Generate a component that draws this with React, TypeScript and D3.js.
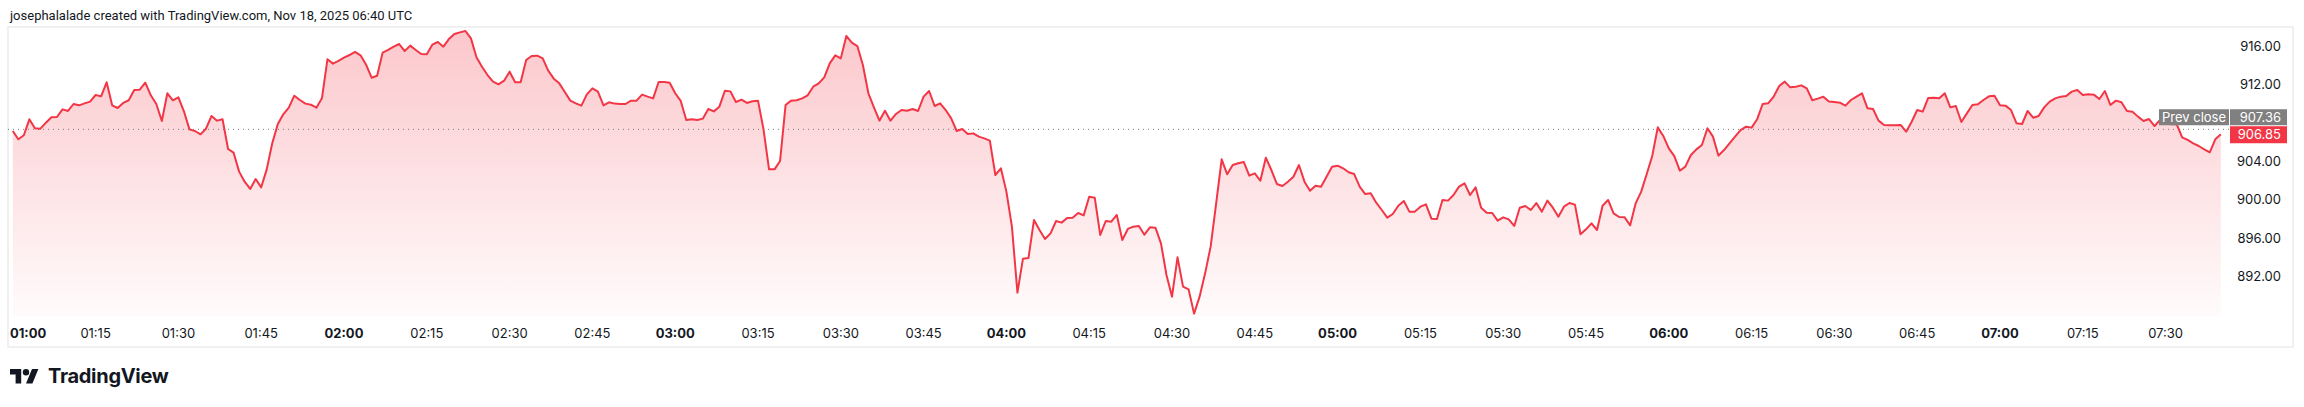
import React from 'react';
import * as d3 from 'd3';

// one close per minute, starting 01:00 (chart time)
const START = Date.UTC(2025, 10, 18, 1, 0);
const closes = [
  907.19, 906.32, 906.74, 908.41, 907.47, 907.43, 908.06, 908.62, 908.65, 909.45,
  909.28, 910.01, 909.87, 910.08, 910.26, 910.95, 910.81, 912.28, 909.87, 909.59,
  910.12, 910.40, 911.47, 911.51, 912.24, 910.92, 910.01, 908.23, 911.13, 910.40,
  910.71, 909.25, 907.36, 907.19, 906.84, 907.43, 908.76, 908.27, 908.41, 905.31,
  904.92, 902.94, 901.89, 901.13, 902.17, 901.30, 903.18, 905.90, 907.89, 908.93,
  909.63, 910.88, 910.43, 910.05, 909.94, 909.63, 910.60, 914.68, 914.23, 914.51,
  914.85, 915.13, 915.45, 915.10, 914.12, 912.76, 912.97, 915.38, 915.66, 916.00,
  916.28, 915.55, 916.11, 915.66, 915.24, 915.20, 916.21, 916.49, 916.00, 916.80,
  917.33, 917.50, 917.64, 916.87, 914.89, 913.91, 913.04, 912.35, 912.07, 912.45,
  913.39, 912.28, 912.28, 914.61, 915.03, 915.06, 914.78, 913.50, 912.66, 912.17,
  911.27, 910.36, 910.08, 909.84, 911.02, 911.65, 911.30, 909.87, 910.19, 910.05,
  910.01, 910.01, 910.36, 910.36, 910.99, 910.78, 910.60, 912.31, 912.31, 912.24,
  911.13, 910.33, 908.34, 908.41, 908.34, 908.48, 909.49, 909.24, 909.73, 911.40,
  911.33, 910.22, 910.46, 910.12, 910.29, 910.36, 907.36, 903.18, 903.18, 904.05,
  909.91, 910.36, 910.40, 910.60, 910.92, 911.82, 912.17, 912.80, 914.26, 915.10,
  914.78, 917.12, 916.42, 916.07, 914.09, 911.13, 909.66, 908.27, 909.31, 908.27,
  908.97, 909.38, 909.31, 909.49, 909.28, 910.78, 911.37, 909.80, 910.08, 909.38,
  908.51, 907.19, 907.40, 906.87, 906.94, 906.60, 906.42, 906.18, 902.59, 903.29,
  900.85, 897.19, 890.29, 893.84, 893.91, 897.89, 896.84, 895.90, 896.49, 897.78,
  897.61, 898.10, 898.13, 898.62, 898.37, 900.32, 900.22, 896.32, 897.78, 897.71,
  898.41, 895.80, 896.95, 897.19, 897.26, 896.35, 897.12, 897.08, 895.45, 892.14,
  889.87, 893.98, 890.92, 890.64, 888.10, 889.87, 892.31, 895.10, 899.63, 904.23,
  902.66, 903.63, 903.81, 903.95, 902.52, 902.76, 901.99, 904.40, 903.11, 901.65,
  901.44, 901.89, 902.41, 903.63, 901.89, 900.95, 901.47, 901.37, 902.41, 903.46,
  903.56, 903.29, 902.87, 902.69, 901.37, 900.60, 900.67, 899.70, 898.93, 898.13,
  898.51, 899.38, 899.87, 898.76, 898.76, 899.28, 899.52, 898.02, 897.99, 899.98,
  899.91, 900.50, 901.37, 901.72, 900.50, 901.30, 899.17, 898.65, 898.62, 897.82,
  898.16, 897.95, 897.26, 899.17, 899.35, 898.93, 899.66, 898.76, 899.91, 899.17,
  898.23, 899.28, 899.66, 899.49, 896.39, 896.91, 897.54, 896.84, 899.38, 899.98,
  898.58, 898.20, 898.16, 897.33, 899.63, 900.85, 902.69, 904.57, 907.57, 906.67,
  905.38, 904.57, 903.04, 903.46, 904.68, 905.27, 905.72, 907.47, 906.60, 904.61,
  905.20, 905.90, 906.60, 907.29, 907.64, 907.54, 908.41, 910.01, 910.08, 910.78,
  911.89, 912.35, 911.75, 911.82, 911.96, 911.65, 910.40, 910.57, 910.78, 910.26,
  910.22, 910.15, 909.84, 910.43, 910.78, 911.13, 909.56, 909.49, 908.27, 907.82,
  907.78, 907.78, 907.82, 907.12, 908.16, 909.38, 909.21, 910.64, 910.67, 910.60,
  911.13, 909.66, 909.80, 908.13, 909.03, 909.91, 909.98, 910.43, 910.81, 910.88,
  909.87, 909.84, 909.38, 907.99, 907.92, 909.28, 908.58, 908.76, 909.66, 910.26,
  910.60, 910.78, 910.85, 911.30, 911.47, 910.95, 911.02, 910.99, 910.53, 911.37,
  909.91, 910.36, 910.19, 909.28, 909.21, 908.69, 908.23, 908.44, 907.71, 908.34,
  908.00, 907.90, 907.92, 906.53, 906.25, 905.90, 905.62, 905.27, 904.96, 906.32,
  906.85,
];
const priceTicks = [892, 896, 900, 904, 912, 916];
const prevClose = 907.36;
const lastPrice = 906.85;
const title = 'josephalalade created with TradingView.com, Nov 18, 2025 06:40 UTC';

const W = 2304;
const H = 407;
const RED = '#F23645';
const TEXT = '#131722';
const FONT = 'Inter, "Noto Sans", sans-serif';

const pane = { left: 8, top: 27, right: 2229, bottom: 316 };
const frame = { left: 8, top: 27, right: 2293, bottom: 347 };

const data = closes.map((v, i) => ({ t: new Date(START + i * 60000), v }));

const x = d3
  .scaleUtc()
  .domain([new Date(START), new Date(START + 400 * 60000)])
  .range([12.8, 2220.8]);
const y = d3.scaleLinear().domain([892, 916]).range([276.3, 46.7]);

const line = d3
  .line<{ t: Date; v: number }>()
  .x((d) => x(d.t))
  .y((d) => y(d.v));
const area = d3
  .area<{ t: Date; v: number }>()
  .x((d) => x(d.t))
  .y0(pane.bottom)
  .y1((d) => y(d.v));

const fmt = d3.utcFormat('%H:%M');
const timeTicks = x.ticks(d3.utcMinute.every(15)!);

export default function App() {
  const lastY = y(lastPrice);
  const prevY = lastY - 17;
  return (
    <svg
      width={W}
      height={H}
      style={{ position: 'absolute', left: 0, top: 0, background: '#fff' }}
      fontFamily={FONT}
    >
      <defs>
        <linearGradient id="fillGrad" gradientUnits="userSpaceOnUse" x1={0} y1={pane.top} x2={0} y2={pane.bottom}>
          <stop offset="0%" stopColor={RED} stopOpacity={0.28} />
          <stop offset="100%" stopColor={RED} stopOpacity={0.02} />
        </linearGradient>
      </defs>

      <text x={10} y={20} fontSize={13} fill={TEXT} fontFamily='Roboto, "Noto Sans", sans-serif'>
        {title}
      </text>

      <rect
        x={frame.left}
        y={frame.top}
        width={frame.right - frame.left}
        height={frame.bottom - frame.top}
        fill="#fff"
        stroke="#ececec"
        strokeWidth={1.5}
      />

      <path d={area(data) ?? ''} fill="url(#fillGrad)" />

      <line
        x1={pane.left}
        x2={pane.right}
        y1={y(prevClose)}
        y2={y(prevClose)}
        stroke="#787b86"
        strokeWidth={1}
        strokeDasharray="1 4"
      />

      <path d={line(data) ?? ''} fill="none" stroke={RED} strokeWidth={2} strokeLinejoin="round" />

      {/* time axis */}
      {timeTicks.map((t) => {
        const bold = t.getUTCMinutes() === 0;
        const tx = x(t);
        const first = tx - 18 < 10;
        return (
          <text
            key={t.getTime()}
            x={first ? 10 : tx}
            y={337.5}
            fontSize={13}
            fontWeight={bold ? 700 : 400}
            textAnchor={first ? 'start' : 'middle'}
            fill={TEXT}
          >
            {fmt(t)}
          </text>
        );
      })}

      {/* price axis */}
      {priceTicks.map((p) => (
        <text key={p} x={2281} y={y(p) + 4.5} fontSize={13} textAnchor="end" fill={TEXT}>
          {p.toFixed(2)}
        </text>
      ))}

      {/* prev close labels */}
      <rect x={2159} y={prevY - 8} width={70} height={16} fill="#808080" />
      <text x={2194} y={prevY + 4.5} fontSize={13} textAnchor="middle" fill="#fff">
        Prev close
      </text>
      <rect x={2230} y={prevY - 8} width={57} height={16} fill="#808080" />
      <text x={2281} y={prevY + 4.5} fontSize={13} textAnchor="end" fill="#fff">
        {prevClose.toFixed(2)}
      </text>

      {/* last price label */}
      <rect x={2230} y={lastY - 8} width={57} height={17} fill={RED} />
      <text x={2281} y={lastY + 5} fontSize={13} textAnchor="end" fill="#fff">
        {lastPrice.toFixed(2)}
      </text>

      {/* TradingView logo */}
      <g transform="translate(10,365.8) scale(0.8)" fill={TEXT}>
        <path d="M14 22H7V11H0V4h14v18zM28 22h-8l7.5-18h8L28 22z" />
        <circle cx={20} cy={8} r={4} />
      </g>
      <text x={48} y={383} fontSize={20} fontWeight={700} fill={TEXT} letterSpacing={-0.3}>
        TradingView
      </text>
    </svg>
  );
}
